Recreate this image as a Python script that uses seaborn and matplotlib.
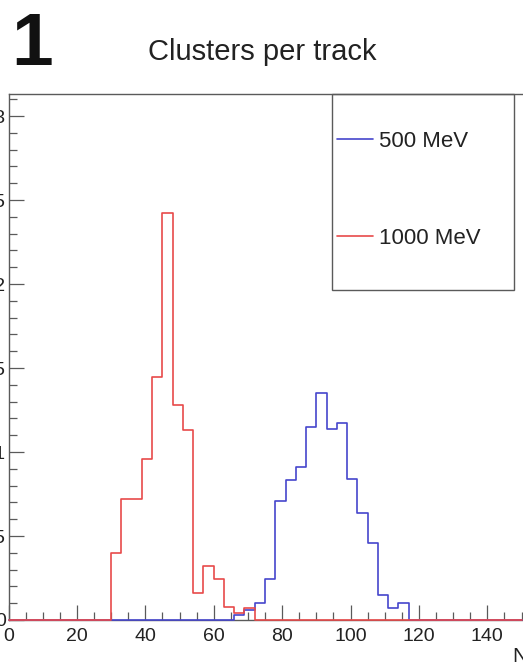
import numpy as np
import pandas as pd
import matplotlib
matplotlib.use("Agg")
import matplotlib.pyplot as plt
import seaborn as sns
from matplotlib.patches import Rectangle
from matplotlib.ticker import MultipleLocator, FixedLocator

# 50 bins of width 3 from 0 to 150, normalised fractions per bin
bin_edges = list(range(0, 151, 3))

frac_500 = [0, 0, 0, 0, 0, 0, 0, 0, 0, 0,
            0, 0, 0, 0, 0, 0, 0, 0, 0, 0,
            0, 0, 0.003, 0.006, 0.0103, 0.0242, 0.071, 0.0833, 0.0909, 0.115,
            0.1353, 0.1137, 0.1175, 0.0839, 0.0635, 0.0456, 0.0149, 0.0073, 0.0103, 0,
            0, 0, 0, 0, 0, 0, 0, 0, 0, 0]

frac_1000 = [0, 0, 0, 0, 0, 0, 0, 0, 0, 0,
             0.040, 0.0718, 0.0718, 0.0957, 0.1445, 0.2421, 0.128, 0.1131, 0.0159, 0.0323,
             0.0242, 0.0079, 0.0042, 0.007, 0, 0, 0, 0, 0, 0,
             0, 0, 0, 0, 0, 0, 0, 0, 0, 0,
             0, 0, 0, 0, 0, 0, 0, 0, 0, 0]

labels = ["500 MeV", "1000 MeV"]
colors = ["#4646cc", "#e84a4a"]

x_ticks = [0, 20, 40, 60, 80, 100, 120, 140]
y_ticks = [0, 0.05, 0.1, 0.15, 0.2, 0.25, 0.3]
y_tick_labels = ["0", "0.05", "0.1", "0.15", "0.2", "0.25", "0.3"]

sns.set_style("white")
plt.rcParams["font.family"] = ["Liberation Sans", "DejaVu Sans"]

W, H = 523, 667
fig = plt.figure(figsize=(W / 100, H / 100), dpi=100)


def fx(px):
    return px / W


def fy(py):
    return 1 - py / H


left, right, top, bottom = 8.5, 521.5, 94, 620
ax = fig.add_axes([fx(left), fy(bottom), fx(right - left), (bottom - top) / H])

centers = [e + 1.5 for e in bin_edges[:-1]]
frame = pd.DataFrame({
    "clusters": centers * 2,
    "fraction": frac_500 + frac_1000,
    "energy": [labels[0]] * len(frac_500) + [labels[1]] * len(frac_1000),
})

handles = []
for lab, col in zip(labels, colors):
    n_before = len(ax.lines)
    sns.histplot(data=frame[frame["energy"] == lab], x="clusters", weights="fraction",
                 bins=bin_edges, element="step", fill=False, color=col,
                 linewidth=1.2, zorder=3, clip_on=False, ax=ax)
    handles.append(ax.lines[n_before])

ax.set_xlim(0, 150)
ax.set_ylim(0, 0.3131)
ax.set_ylabel("")

ax.xaxis.set_major_locator(FixedLocator(x_ticks))
ax.xaxis.set_minor_locator(MultipleLocator(5))
ax.set_xticklabels([str(v) for v in x_ticks])
ax.yaxis.set_major_locator(FixedLocator(y_ticks))
ax.yaxis.set_minor_locator(MultipleLocator(0.01))
ax.set_yticklabels(y_tick_labels)

frame_col = "#5a5a5a"
ax.tick_params(which="both", direction="in", color=frame_col, width=0.9,
               bottom=True, left=True, top=False, right=False)
ax.tick_params(which="major", length=11, labelsize=14, labelcolor="#222222")
ax.tick_params(which="minor", length=5.5)
ax.tick_params(axis="x", which="major", pad=6)
ax.tick_params(axis="y", which="major", pad=2)

for side in ["left", "top", "bottom"]:
    ax.spines[side].set_color(frame_col)
    ax.spines[side].set_linewidth(1.0)
    ax.spines[side].set_zorder(2)
ax.spines["right"].set_visible(False)

ax.set_xlabel("N", fontsize=15, color="#222222")
ax.xaxis.set_label_coords((520 - left) / (right - left), -(647 - bottom) / (bottom - top))

# legend box
fig.patches.append(Rectangle((fx(332), fy(290)), fx(514 - 332), (290 - 94) / H,
                             transform=fig.transFigure, fill=False,
                             edgecolor=frame_col, linewidth=1.0, zorder=5))
leg = ax.legend(handles, labels, loc="upper left",
                bbox_to_anchor=(fx(337), fy(131)), bbox_transform=fig.transFigure,
                frameon=False, fontsize=16, handlelength=1.6, handletextpad=0.3,
                labelspacing=3.4, borderpad=0, borderaxespad=0)
for t in leg.get_texts():
    t.set_color("#222222")

fig.text(fx(262.5), fy(60), "Clusters per track", ha="center", va="baseline",
         fontsize=21, color="#222222")
fig.text(fx(11), fy(65), "1", ha="left", va="baseline", fontsize=54,
         fontweight="bold", color="#111111")

fig.savefig("out.png", dpi=100)
